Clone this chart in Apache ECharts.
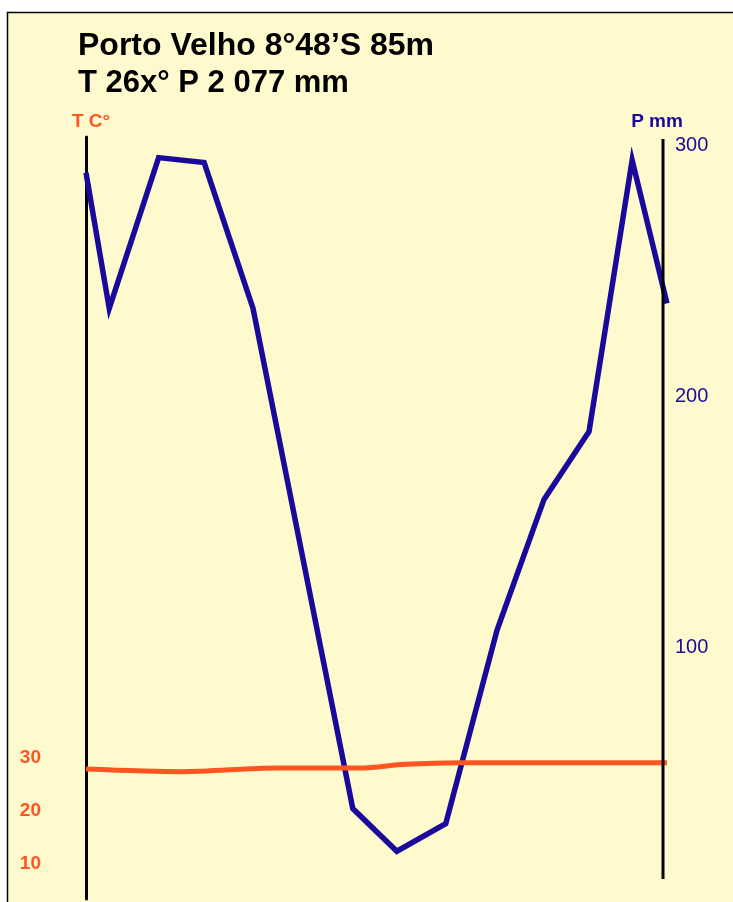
<!DOCTYPE html>
<html>
<head>
<meta charset="utf-8">
<script src="https://cdn.jsdelivr.net/npm/echarts@6/dist/echarts.min.js"></script>
<style>
html,body{margin:0;padding:0;background:#ffffff;}
#chart{width:733px;height:902px;}
</style>
</head>
<body>
<div id="chart"></div>
<script>
// Data
const titleLines = ['Porto Velho 8°48’S 85m', 'T 26x° P 2 077 mm'];
const precipX = [0, 0.48, 1.5, 2.44, 3.45, 5.51, 6.42, 7.43, 8.49, 9.46, 10.39, 11.28, 12];
const precipMM = [289, 235, 295, 293, 235, 36, 19, 30, 107, 159, 186, 294, 237];
const tempX = [0, 1.98, 3.94, 5.66, 6.6, 7.72, 12];
const tempC = [27.9, 27.4, 28.1, 28.1, 28.8, 29.1, 29.1];
const tempTicks = [10, 20, 30];
const precipTicks = [100, 200, 300];

const BG = '#fffacd';
const BLUE = '#1a0a9c';
const ORANGE = '#ff5522';
const FONT = 'Liberation Sans, Arial, sans-serif';

const chart = echarts.init(document.getElementById('chart'), null, {renderer: 'canvas'});

const pairs = (xs, ys) => xs.map((x, i) => [x, ys[i]]);

chart.setOption({
  backgroundColor: '#ffffff',
  animation: false,
  title: {
    text: '{a|' + titleLines[0] + '}\n{b|' + titleLines[1] + '}',
    left: 78,
    top: 28,
    padding: 0,
    textStyle: {
      fontFamily: FONT, fontWeight: 'bold', fontSize: 32, lineHeight: 37, color: '#000000',
      rich: {
        a: {fontFamily: FONT, fontWeight: 'bold', fontSize: 32, lineHeight: 37, color: '#000000'},
        b: {fontFamily: FONT, fontWeight: 'bold', fontSize: 31, lineHeight: 37, color: '#000000'}
      }
    }
  },
  grid: {left: 86, right: 66, top: 137, bottom: 3},
  xAxis: {type: 'value', min: 0, max: 12, show: false},
  yAxis: [{
    type: 'value', position: 'left', min: 3.38, max: 147.18,
    name: 'T C°', nameLocation: 'end', nameGap: 6,
    nameTextStyle: {fontFamily: FONT, fontWeight: 'bold', fontSize: 19, color: ORANGE, padding: [0, 0, 0, 10]},
    axisLine: {show: true, lineStyle: {color: '#000000', width: 3}},
    axisTick: {show: false},
    splitLine: {show: false},
    axisLabel: {customValues: tempTicks, margin: 45, fontFamily: FONT, fontWeight: 'bold', fontSize: 19, color: ORANGE}
  }, {
    type: 'value', position: 'right', min: 0, max: 303.2, offset: -4,
    name: 'P mm', nameLocation: 'end', nameGap: 6,
    nameTextStyle: {fontFamily: FONT, fontWeight: 'bold', fontSize: 19, color: BLUE, padding: [0, 12, 0, 0]},
    axisLine: {show: false},
    axisTick: {show: false},
    splitLine: {show: false},
    axisLabel: {customValues: precipTicks, margin: 12, fontFamily: FONT, fontSize: 20, color: BLUE}
  }],
  series: [{
    type: 'line', name: 'P', yAxisIndex: 1, data: pairs(precipX, precipMM),
    symbol: 'none', lineStyle: {color: BLUE, width: 5.5, join: 'miter'}, z: 3
  }, {
    type: 'line', name: 'T', yAxisIndex: 0, data: pairs(tempX, tempC),
    symbol: 'none', smooth: 0.3, lineStyle: {color: ORANGE, width: 5}, z: 4
  }]
});

// Frame and right axis line (shorter than the plot), positioned through the library's scales
const xr = chart.convertToPixel({xAxisIndex: 0}, 12) - 4;
const yTop = chart.convertToPixel({yAxisIndex: 1}, 302.4);
const yBot = chart.convertToPixel({yAxisIndex: 1}, 8);
chart.setOption({
  graphic: [{
    type: 'rect', z: -10,
    shape: {x: 7.5, y: 12.5, width: 760, height: 920},
    style: {fill: BG, stroke: '#000000', lineWidth: 1.5}
  }, {
    type: 'line', z: 5,
    shape: {x1: xr, y1: yTop, x2: xr, y2: yBot},
    style: {stroke: '#000000', lineWidth: 3}
  }]
});
</script>
</body>
</html>
